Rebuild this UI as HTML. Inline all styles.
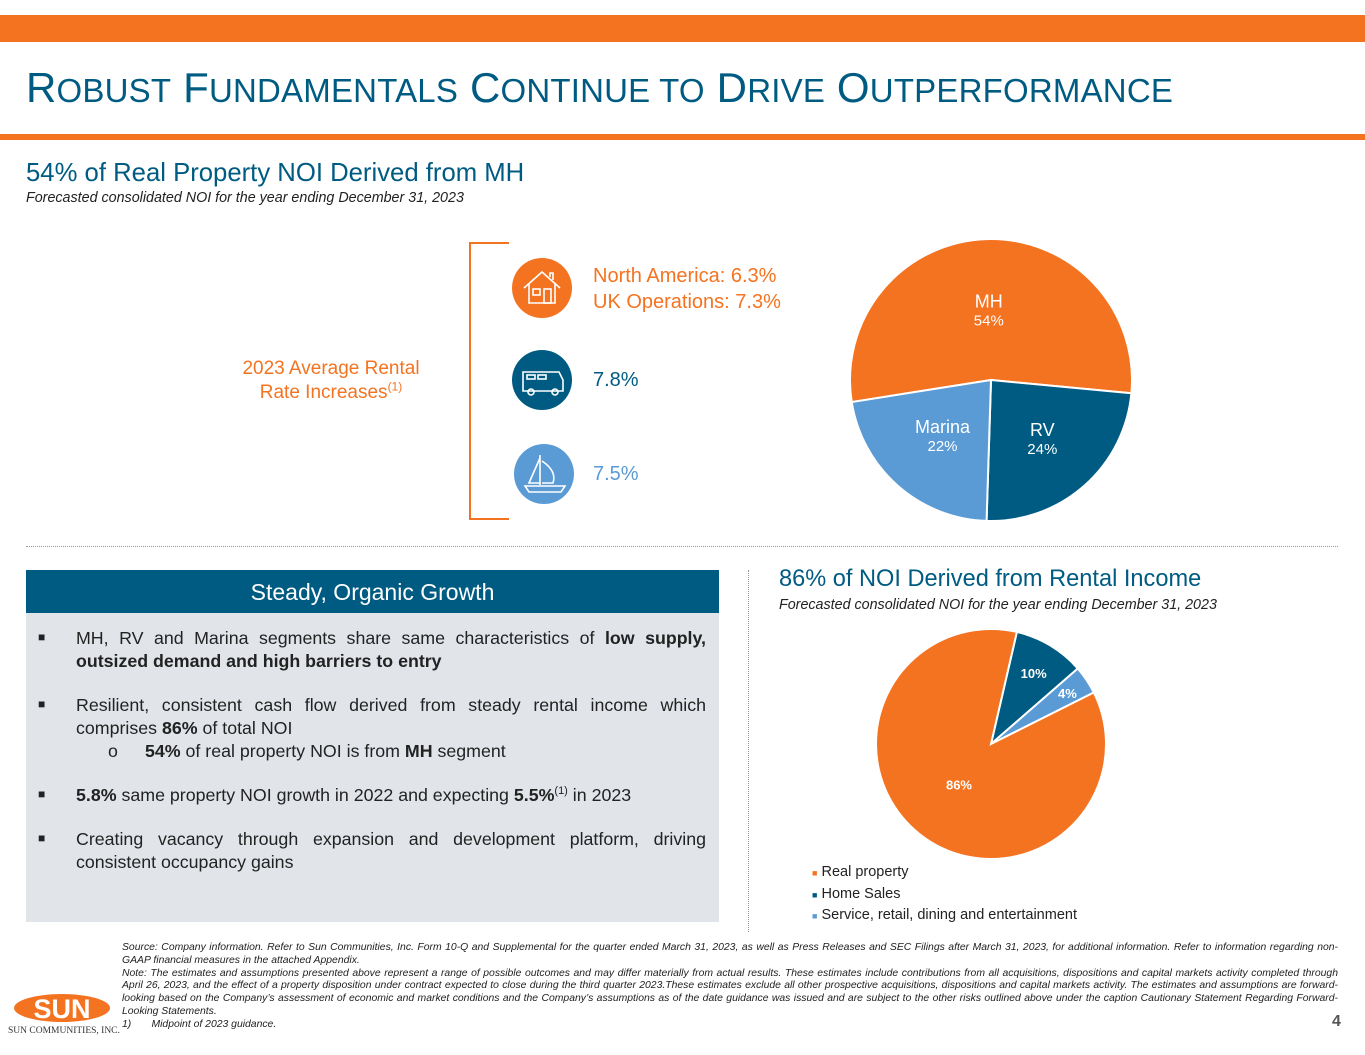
<!DOCTYPE html>
<html><head><meta charset="utf-8"><style>
body{margin:0;width:1365px;height:1055px;position:relative;background:#fff;font-family:"Liberation Sans",Arial,sans-serif;overflow:hidden}
.a{position:absolute}
.b{position:absolute;left:0;top:-1px;font-size:12px}
</style></head><body>
<div class="a" style="left:0;top:15px;width:1365px;height:27px;background:#F47321"></div>
<div class="a" style="left:26px;top:64px;font-size:42px;color:#005B82;white-space:nowrap;letter-spacing:0.2px">R<span style="font-size:33px">OBUST</span> F<span style="font-size:33px">UNDAMENTALS</span> C<span style="font-size:33px">ONTINUE TO</span> D<span style="font-size:33px">RIVE</span> O<span style="font-size:33px">UTPERFORMANCE</span></div>
<div class="a" style="left:0;top:134px;width:1365px;height:6px;background:#F47321"></div>

<div class="a" style="left:26px;top:159px;font-size:25.7px;color:#005B82">54% of Real Property NOI Derived from MH</div>
<div class="a" style="left:26px;top:190px;font-size:14.3px;font-style:italic;color:#222">Forecasted consolidated NOI for the year ending December 31, 2023</div>

<div class="a" style="left:220px;top:357px;width:222px;text-align:center;font-size:19px;color:#F47321;line-height:24px">2023 Average Rental<br>Rate Increases<sup style="font-size:12px;line-height:0">(1)</sup></div>
<div class="a" style="left:469px;top:242px;width:38px;height:274px;border:2px solid #F47321;border-right:none"></div>

<svg class="a" style="left:511px;top:257px" width="62" height="62"><circle cx="31" cy="31" r="30" fill="#F47321"/><g fill="none" stroke="#fff" stroke-width="1.6"><path d="M13 31 L31 15 L49 31"/><path d="M18 27 V46 H44 V27"/><rect x="22" y="32" width="7" height="6"/><rect x="33" y="32" width="7" height="14"/><path d="M39 20 V16 H42 V23"/></g></svg>
<div class="a" style="left:593px;top:263px;font-size:20px;color:#F47321;line-height:26px">North America: 6.3%<br>UK Operations: 7.3%</div>
<svg class="a" style="left:511px;top:349px" width="62" height="62"><circle cx="31" cy="31" r="30" fill="#005B82"/><g fill="none" stroke="#fff" stroke-width="1.6"><path d="M12 23 H48 L52 31 V42 H12 Z"/><rect x="16" y="26" width="8" height="4"/><rect x="27" y="26" width="8" height="4"/><circle cx="20" cy="43" r="3"/><circle cx="44" cy="43" r="3"/></g></svg>
<div class="a" style="left:593px;top:369px;font-size:20px;color:#005B82">7.8%</div>
<svg class="a" style="left:513px;top:443px" width="62" height="62"><circle cx="31" cy="31" r="30" fill="#5B9BD5"/><g fill="none" stroke="#fff" stroke-width="1.6"><path d="M27 12 V42"/><path d="M27 15 L16 40 H27"/><path d="M29 18 Q44 28 40 40 H29"/><path d="M12 43 H52 L48 49 H16 Z"/></g></svg>
<div class="a" style="left:593px;top:463px;font-size:20px;color:#5B9BD5">7.5%</div>

<svg class="a" style="left:830px;top:220px" width="320" height="320" id="pie1"></svg>

<div class="a" style="left:26px;top:546px;width:1312px;border-top:1px dotted #999"></div>
<div class="a" style="left:748px;top:570px;height:362px;border-left:1px dotted #999"></div>

<div class="a" style="left:26px;top:570px;width:693px;height:352px;background:#E1E5EA"></div>
<div class="a" style="left:26px;top:570px;width:693px;height:43px;background:#005B82;color:#fff;font-size:23px;text-align:center;line-height:44px">Steady, Organic Growth</div>
<div class="a" style="left:38px;top:627px;width:668px;font-size:17.8px;color:#222;line-height:23px">
<div style="position:relative;padding-left:38px;text-align:justify;text-align-last:left"><span class="b">■</span>MH, RV and Marina segments share same characteristics of <b>low supply, outsized demand and high barriers to entry</b></div>
<div style="position:relative;padding-left:38px;margin-top:21px;text-align:justify;text-align-last:left"><span class="b">■</span>Resilient, consistent cash flow derived from steady rental income which comprises <b>86%</b> of total NOI</div>
<div style="position:relative;padding-left:107px"><span style="position:absolute;left:70px">o</span><b>54%</b> of real property NOI is from <b>MH</b> segment</div>
<div style="position:relative;padding-left:38px;margin-top:21px"><span class="b">■</span><b>5.8%</b> same property NOI growth in 2022 and expecting <b>5.5%</b><sup style="font-size:11px;line-height:0">(1)</sup> in 2023</div>
<div style="position:relative;padding-left:38px;margin-top:21px;text-align:justify;text-align-last:left"><span class="b">■</span>Creating vacancy through expansion and development platform, driving consistent occupancy gains</div>
</div>

<div class="a" style="left:779px;top:566px;font-size:23.6px;color:#005B82">86% of NOI Derived from Rental Income</div>
<div class="a" style="left:779px;top:597px;font-size:14.3px;font-style:italic;color:#222">Forecasted consolidated NOI for the year ending December 31, 2023</div>
<svg class="a" style="left:860px;top:615px" width="260" height="260" id="pie2"></svg>
<div class="a" style="left:812px;top:862px;font-size:14.5px;color:#222;line-height:20.5px">
<div><span style="color:#F47321;font-size:9px">■</span> Real property</div>
<div><span style="color:#005B82;font-size:9px">■</span> Home Sales</div>
<div><span style="color:#5B9BD5;font-size:9px">■</span> Service, retail, dining and entertainment</div>
</div>

<div class="a" style="left:122px;top:942px;width:1216px;font-size:10.4px;font-style:italic;color:#222;line-height:12.8px;text-align:justify">Source: Company information. Refer to Sun Communities, Inc. Form 10-Q and Supplemental for the quarter ended March 31, 2023, as well as Press Releases and SEC Filings after March 31, 2023, for additional information. Refer to information regarding non-GAAP financial measures in the attached Appendix.<br>Note: The estimates and assumptions presented above represent a range of possible outcomes and may differ materially from actual results. These estimates include contributions from all acquisitions, dispositions and capital markets activity completed through April 26, 2023, and the effect of a property disposition under contract expected to close during the third quarter 2023.These estimates exclude all other prospective acquisitions, dispositions and capital markets activity. The estimates and assumptions are forward-looking based on the Company’s assessment of economic and market conditions and the Company’s assumptions as of the date guidance was issued and are subject to the other risks outlined above under the caption Cautionary Statement Regarding Forward-Looking Statements.<br>1)&nbsp;&nbsp;&nbsp;&nbsp;&nbsp;&nbsp;&nbsp;Midpoint of 2023 guidance.</div>
<svg class="a" style="left:10px;top:993px" width="102" height="32"><ellipse cx="52" cy="15" rx="48" ry="14" fill="#F47321"/><text x="52" y="25" text-anchor="middle" font-family="Liberation Sans" font-weight="bold" font-size="27" fill="#fff">SUN</text></svg>
<div class="a" style="left:8px;top:1026px;font-family:'Liberation Serif',serif;font-size:9.5px;color:#333">SUN COMMUNITIES, INC.</div>
<div class="a" style="left:1332px;top:1013px;font-size:16px;color:#555;font-weight:bold">4</div>

<script>
const seg1Labels=["MH","RV","Marina"];
const seg1Values=[54,24,22];
const seg1Colors=["#F47321","#005B82","#5B9BD5"];
const noiLabels=["Home Sales","Service, retail, dining and entertainment","Real property"];
const noiValues=[10,4,86];
const noiTexts=["10%","4%","86%"];
const noiColors=["#005B82","#5B9BD5","#F47321"];
const NS="http://www.w3.org/2000/svg";
function pt(cx,cy,r,deg){const a=(deg-90)*Math.PI/180;return [cx+r*Math.cos(a),cy+r*Math.sin(a)];}
function pie(svg,vals,cols,cx,cy,r,start,names){
  const tot=vals.reduce((a,b)=>a+b,0);let ang=start;const mids=[];
  vals.forEach((v,i)=>{const sw=v/tot*360;const p1=pt(cx,cy,r,ang),p2=pt(cx,cy,r,ang+sw);
    const p=document.createElementNS(NS,"path");
    p.setAttribute("d",`M${cx},${cy} L${p1[0]},${p1[1]} A${r},${r} 0 ${sw>180?1:0} 1 ${p2[0]},${p2[1]} Z`);
    p.setAttribute("fill",cols[i]);p.setAttribute("stroke","#fff");p.setAttribute("stroke-width","2");
    
    
    svg.appendChild(p);mids.push(ang+sw/2);ang+=sw;});
  return mids;}
function txt(svg,x,y,s,size,col,bold,name){const t=document.createElementNS(NS,"text");t.setAttribute("x",x);t.setAttribute("y",y);t.setAttribute("text-anchor","middle");t.setAttribute("font-family","Liberation Sans");t.setAttribute("font-size",size);t.setAttribute("fill",col);if(bold)t.setAttribute("font-weight","bold");t.textContent=s;
  
  
  svg.appendChild(t);}
const s1=document.getElementById("pie1");
const m1=pie(s1,seg1Values,seg1Colors,161,160,141,261,["mh","rv","marina"]);
const lr=[0.5,0.55,0.52];
m1.forEach((m,i)=>{const p=pt(161,160,141*lr[i],m);txt(s1,p[0],p[1]-2,seg1Labels[i],18,"#fff",false,"label-"+seg1Labels[i].toLowerCase());txt(s1,p[0],p[1]+16,seg1Values[i]+"%",15,"#fff",false,"value-"+seg1Labels[i].toLowerCase());});
const s2=document.getElementById("pie2");
const m2=pie(s2,noiValues,noiColors,131,129,115,13,["home-sales","service","real-property"]);
const lr2=[0.72,0.8,0.45];
m2.forEach((m,i)=>{const p=pt(131,129,115*lr2[i],m);txt(s2,p[0],p[1]+5,noiTexts[i],13,"#fff",true,"value-label-"+i);});
</script>
</body></html>
